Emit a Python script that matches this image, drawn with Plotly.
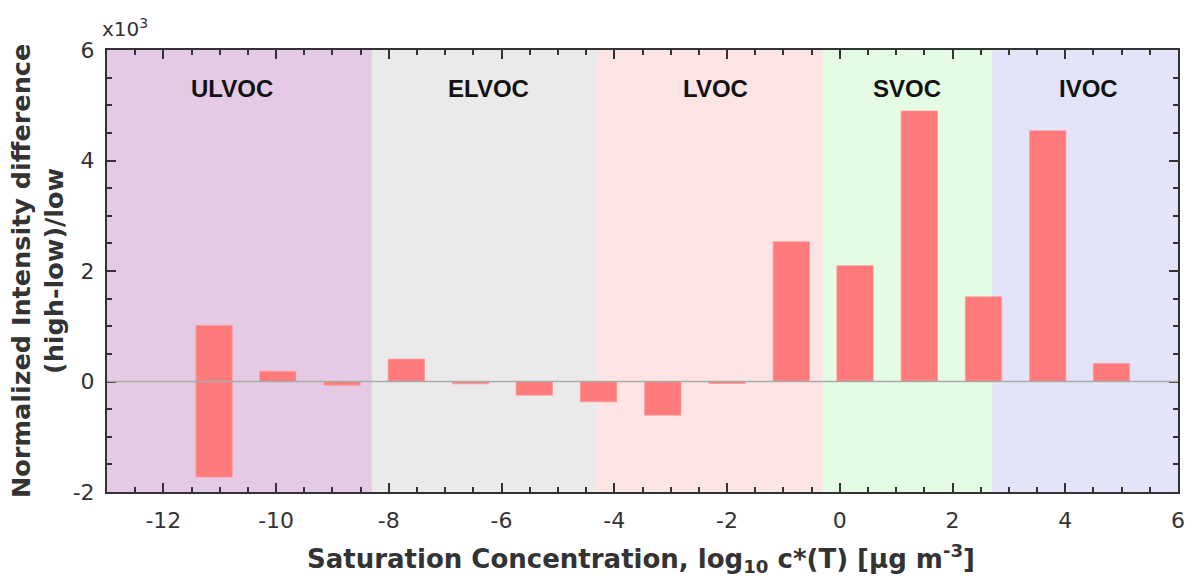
import plotly.graph_objects as go

# Bar positions (log10 c*) and values (x10^3)
bar_x = [-11.10, -11.10, -9.97, -8.83, -7.69, -6.55, -5.42, -4.28, -3.14, -2.00,
         -0.86, 0.27, 1.41, 2.55, 3.69, 4.82]
bar_y = [1.015, -1.73, 0.187, -0.067, 0.405, -0.042, -0.248, -0.368, -0.61, -0.036,
         2.53, 2.096, 4.897, 1.534, 4.54, 0.326]

# Volatility class regions
region_names = ["ULVOC", "ELVOC", "LVOC", "SVOC", "IVOC"]
region_start = [-13.0, -8.3, -4.3, -0.3, 2.7]
region_end = [-8.3, -4.3, -0.3, 2.7, 6.0]
region_label_x = [-10.78, -6.24, -2.21, 1.2, 4.42]
region_colors = ["#E5CAE6", "#EAEAEA", "#FCE3E4", "#E3FCE3", "#E3E3FA"]

x_ticks = [-12, -10, -8, -6, -4, -2, 0, 2, 4, 6]
y_ticks = [-2, 0, 2, 4, 6]

fig = go.Figure()
fig.add_trace(go.Bar(
    x=bar_x, y=bar_y, width=0.645,
    marker=dict(color="#FF7B7B", line=dict(width=0.8, color="#FF9A9A")),
    showlegend=False,
))

shapes = []
annotations = []
for name, s, e, lx, c in zip(region_names, region_start, region_end, region_label_x, region_colors):
    shapes.append(dict(type="rect", xref="x", yref="paper", x0=s, x1=e, y0=0, y1=1,
                       fillcolor=c, line=dict(width=0), layer="below"))
    annotations.append(dict(x=lx, y=5.3, xref="x", yref="y", text="<b>%s</b>" % name,
                            showarrow=False,
                            font=dict(family="Liberation Sans, Arial", size=24, color="#111111")))

shapes.append(dict(type="line", xref="paper", yref="y", x0=0, x1=1, y0=0, y1=0,
                   line=dict(color="#AAAAAA", width=1.5), layer="above"))

# multiplier label
annotations.append(dict(x=0, y=1.0, xref="paper", yref="paper", xanchor="left", yanchor="bottom",
                        xshift=-7, yshift=7, text="x10<sup>3</sup>", showarrow=False,
                        font=dict(family="DejaVu Sans", size=20, color="#333333")))
# y title
annotations.append(dict(x=0, y=0.5, xref="paper", yref="paper", xanchor="center", yanchor="middle",
                        xshift=-70, text="<b>Normalized Intensity difference<br>(high-low)/low</b>",
                        textangle=-90, showarrow=False,
                        font=dict(family="DejaVu Sans", size=25.5, color="#333333")))
# x title
annotations.append(dict(x=0.5, y=0, xref="paper", yref="paper", xanchor="center", yanchor="middle",
                        yshift=-66, xshift=-2,
                        text="<b>Saturation Concentration, log<sub>10</sub> c*(T) [µg m<sup>-3</sup>]</b>",
                        showarrow=False,
                        font=dict(family="DejaVu Sans", size=26, color="#333333")))

fig.update_layout(
    width=1192, height=579,
    margin=dict(l=107, r=14, t=50, b=87, autoexpand=False),
    paper_bgcolor="white", plot_bgcolor="white",
    barmode="overlay",
    shapes=shapes, annotations=annotations,
    xaxis=dict(
        range=[-13, 6], tickvals=x_ticks, ticktext=[str(v) for v in x_ticks],
        ticks="inside", ticklen=9, tickwidth=2, tickcolor="#333333",
        minor=dict(dtick=0.5, tick0=0, ticks="inside", ticklen=5, tickwidth=1.5, tickcolor="#333333"),
        showline=True, linecolor="#333333", linewidth=2, mirror="ticks",
        showgrid=False, zeroline=False, automargin=False,
        ticklabelstandoff=8,
        tickfont=dict(family="DejaVu Sans", size=22, color="#333333"),
    ),
    yaxis=dict(
        range=[-2, 6], tickvals=y_ticks, ticktext=[str(v) for v in y_ticks],
        ticks="inside", ticklen=9, tickwidth=2, tickcolor="#333333",
        minor=dict(dtick=0.5, tick0=0, ticks="inside", ticklen=5, tickwidth=1.5, tickcolor="#333333"),
        showline=True, linecolor="#333333", linewidth=2, mirror="ticks",
        showgrid=False, zeroline=False, automargin=False,
        ticklabelstandoff=6,
        tickfont=dict(family="DejaVu Sans", size=22, color="#333333"),
    ),
)

fig.write_html("out.html", config={"displayModeBar": False},
               post_script="document.body.style.margin='0px';")
